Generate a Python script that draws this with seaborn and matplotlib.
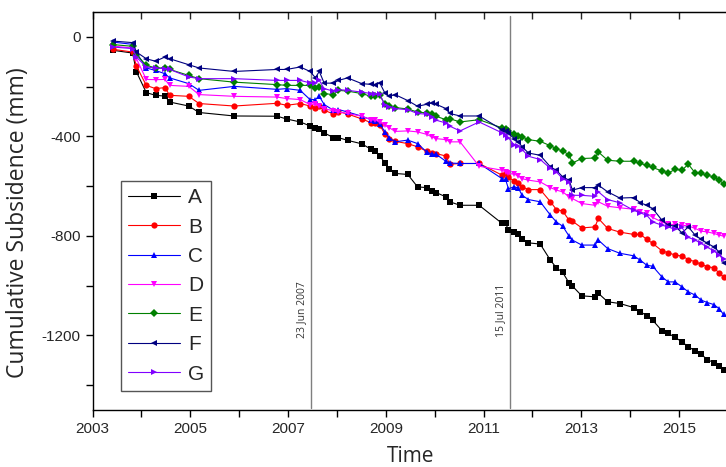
import numpy as np
import pandas as pd
import matplotlib
matplotlib.use("Agg")
import matplotlib.pyplot as plt
from matplotlib.ticker import MultipleLocator
import seaborn as sns

dates = [2003.42, 2003.82, 2003.90, 2004.10, 2004.29, 2004.48, 2004.58, 2004.97, 2005.18, 2005.90,
         2006.78, 2006.97, 2007.25, 2007.45, 2007.56, 2007.64, 2007.74, 2007.93, 2008.03, 2008.22,
         2008.51, 2008.70, 2008.79, 2008.88, 2008.98, 2009.07, 2009.19, 2009.45, 2009.65, 2009.84,
         2009.94, 2010.03, 2010.23, 2010.31, 2010.52, 2010.91, 2011.38, 2011.45, 2011.51, 2011.63,
         2011.71, 2011.79, 2011.92, 2012.16, 2012.37, 2012.49, 2012.62, 2012.75, 2012.82, 2013.01,
         2013.28, 2013.35, 2013.54, 2013.79, 2014.07, 2014.21, 2014.34, 2014.46, 2014.65, 2014.78,
         2014.92, 2015.06, 2015.19, 2015.33, 2015.45, 2015.58, 2015.71, 2015.82, 2015.91]

A = [-54, -65, -141, -224, -235, -238, -262, -278, -304, -318,
     -319, -330, -342, -358, -366, -371, -386, -405, -405, -416,
     -430, -452, -459, -477, -508, -532, -549, -553, -603, -606,
     -619, -626, -643, -663, -677, -677, -750, -750, -775, -784,
     -793, -811, -828, -833, -898, -928, -947, -989, -1002, -1041,
     -1045, -1031, -1065, -1072, -1088, -1105, -1121, -1139, -1181, -1192,
     -1208, -1226, -1246, -1262, -1276, -1297, -1310, -1323, -1339]
B = [-50, -61, -118, -195, -208, -204, -235, -239, -268, -278,
     -267, -275, -268, -278, -285, -278, -295, -310, -300, -310,
     -330, -345, -345, -355, -390, -410, -420, -429, -442, -460,
     -465, -469, -479, -512, -509, -509, -556, -549, -565, -579,
     -587, -603, -614, -614, -663, -694, -700, -737, -741, -768,
     -764, -730, -770, -785, -794, -794, -814, -830, -860, -868,
     -877, -881, -895, -904, -914, -924, -928, -949, -965]
C = [-21, -30, -63, -125, -135, -148, -165, -188, -215, -199,
     -211, -208, -215, -252, -252, -239, -272, -295, -292, -302,
     -319, -333, -338, -349, -382, -405, -422, -415, -429, -463,
     -472, -472, -500, -507, -509, -509, -570, -573, -610, -603,
     -607, -637, -654, -663, -717, -744, -761, -801, -817, -837,
     -837, -817, -851, -870, -880, -898, -918, -922, -965, -985,
     -985, -1005, -1025, -1038, -1058, -1068, -1076, -1092, -1116]
D = [-37, -45, -88, -171, -172, -171, -195, -199, -232, -239,
     -242, -248, -252, -272, -270, -279, -288, -298, -302, -308,
     -319, -333, -335, -342, -355, -365, -380, -378, -382, -392,
     -402, -409, -413, -422, -422, -520, -536, -543, -549, -552,
     -559, -570, -576, -583, -606, -616, -623, -643, -650, -670,
     -677, -663, -681, -687, -693, -704, -710, -726, -744, -754,
     -754, -757, -760, -770, -781, -784, -790, -797, -801]
E = [-31, -38, -72, -114, -125, -125, -131, -155, -168, -182,
     -192, -195, -195, -195, -204, -200, -228, -232, -215, -218,
     -228, -239, -239, -235, -270, -279, -284, -290, -302, -306,
     -311, -319, -333, -329, -342, -333, -366, -369, -378, -392,
     -398, -402, -413, -420, -438, -449, -460, -473, -507, -489,
     -487, -463, -496, -500, -500, -509, -516, -525, -539, -547,
     -533, -536, -512, -547, -549, -556, -563, -576, -590]
F = [-17, -23, -61, -88, -98, -81, -88, -112, -125, -139,
     -131, -131, -121, -139, -164, -139, -186, -186, -175, -165,
     -188, -191, -192, -186, -225, -239, -232, -256, -279, -271,
     -266, -271, -288, -308, -318, -318, -373, -378, -388, -409,
     -422, -442, -467, -476, -523, -536, -563, -576, -616, -606,
     -606, -596, -623, -648, -646, -667, -677, -690, -737, -757,
     -761, -788, -764, -797, -813, -830, -844, -864, -908]
G = [-41, -47, -81, -121, -125, -128, -131, -161, -168, -168,
     -175, -175, -175, -185, -185, -175, -208, -218, -212, -215,
     -222, -228, -231, -231, -275, -280, -288, -293, -308, -311,
     -322, -335, -346, -359, -378, -342, -386, -396, -405, -436,
     -440, -453, -480, -493, -529, -543, -570, -583, -637, -637,
     -641, -623, -654, -667, -697, -708, -717, -744, -757, -764,
     -774, -766, -806, -817, -830, -846, -860, -877, -891]

series_names = ["A", "B", "C", "D", "E", "F", "G"]
series_values = [A, B, C, D, E, F, G]
colors = ["#000000", "#ff0000", "#0000ff", "#ff00ff", "#008000", "#000080", "#8000ff"]
markers = ["s", "o", "^", "v", "D", "<", ">"]

events = [2007.47, 2011.54]
event_labels = ["23 Jun 2007", "15 Jul 2011"]

rows = []
for name, vals in zip(series_names, series_values):
    for d, v in zip(dates, vals):
        rows.append({"Time": d, "Subsidence": v, "Series": name})
df = pd.DataFrame(rows)

sns.set_style("ticks")
plt.rcParams["font.family"] = ["Liberation Sans", "DejaVu Sans"]
plt.rcParams["axes.unicode_minus"] = False

fig = plt.figure(figsize=(7.26, 4.67), dpi=100)
ax = fig.add_axes([92.5 / 726, 1 - 410 / 467, (727.9 - 92.5) / 726, 398 / 467])

sns.lineplot(data=df, x="Time", y="Subsidence", hue="Series", style="Series",
             palette=dict(zip(series_names, colors)),
             markers=dict(zip(series_names, markers)), dashes=False,
             estimator=None, linewidth=0.8, markersize=4.5, markeredgewidth=0,
             ax=ax)

for ev, lab in zip(events, event_labels):
    ax.axvline(ev, color="#7f7f7f", linewidth=1.0, ymin=0.005, ymax=0.99, zorder=0)
    ax.text(ev - 0.2, -1098, lab, rotation=90, ha="center", va="center",
            fontsize=7.5, color="#333333", family=["Open Sans", "DejaVu Sans"])

ax.set_xlim(2003, 2016)
ax.set_ylim(-1500, 100)
ax.set_xticks([2003, 2005, 2007, 2009, 2011, 2013, 2015])
ax.xaxis.set_minor_locator(MultipleLocator(1))
ax.set_yticks([0, -400, -800, -1200])
ax.yaxis.set_minor_locator(MultipleLocator(200))
ax.tick_params(axis="both", which="both", direction="out", length=5, width=1,
               labelsize=11, color="black")
for sp in ax.spines.values():
    sp.set_color("black")
    sp.set_linewidth(1.0)
    sp.set_visible(True)

top = ax.secondary_xaxis("top")
top.set_xticks([2003, 2005, 2007, 2009, 2011, 2013, 2015])
top.xaxis.set_minor_locator(MultipleLocator(1))
top.tick_params(axis="x", which="both", direction="in", length=5, width=1, labeltop=False)

ax.set_xlabel("Time", fontsize=15, family=["Open Sans", "DejaVu Sans"], labelpad=7)
ax.set_ylabel("Cumulative Subsidence (mm)", fontsize=16.5, family=["Open Sans", "DejaVu Sans"])
ax.yaxis.set_label_coords(-0.098, 0.472)

leg = ax.legend(loc="lower left", bbox_to_anchor=(0.045, 0.048), borderaxespad=0, fontsize=15,
                frameon=True, fancybox=False, edgecolor="#555555", framealpha=1,
                handlelength=2.5, labelspacing=0.5, borderpad=0.35, handletextpad=0.35,
                title=None)
leg.get_frame().set_linewidth(1.0)

fig.savefig("out.png", dpi=100)
